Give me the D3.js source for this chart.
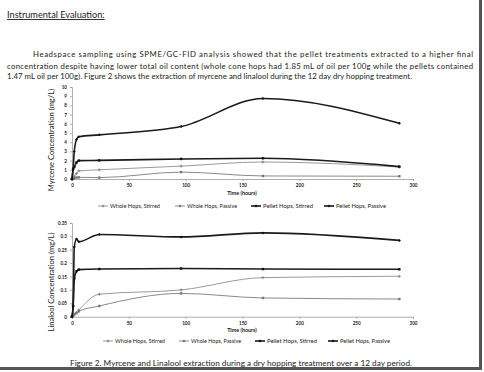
<!DOCTYPE html>
<meta charset="utf-8">
<html>
<head>
  <title>figure-2</title>
  <script src="https://d3js.org/d3.v7.min.js"></script>
  <style>
    body { margin:0; background:#fff; }
    text { font-family: Lato, "Open Sans", sans-serif; fill:#222; }
  </style>
</head>
<body>
<div id="page"></div>
<script type="text/javascript">
/* data */
var hours = [0, 1, 2, 4, 6, 24, 96, 168, 288];
var series_names = ["Whole Hops, Stirred", "Whole Hops, Passive", "Pellet Hops, Stirred", "Pellet Hops, Passive"];
var myrcene_whole_stirred  = [0, 0.1, 0.3, 0.6, 0.88, 1.0, 1.4, 1.85, 1.3];
var myrcene_whole_passive  = [0, 0.05, 0.1, 0.15, 0.18, 0.15, 0.75, 0.33, 0.3];
var myrcene_pellet_stirred = [0, 1.1, 1.3, 1.8, 2.0, 2.02, 2.18, 2.25, 1.35];
var myrcene_pellet_passive = [0, 1.1, 3.0, 4.3, 4.6, 4.8, 5.7, 8.75, 6.05];
var linalool_whole_stirred  = [0, 0.005, 0.01, 0.016, 0.025, 0.084, 0.1, 0.146, 0.151];
var linalool_whole_passive  = [0, 0.004, 0.008, 0.013, 0.02, 0.04, 0.087, 0.07, 0.066];
var linalool_pellet_stirred = [0, 0.04, 0.143, 0.17, 0.176, 0.178, 0.18, 0.178, 0.177];
var linalool_pellet_passive = [0, 0.04, 0.26, 0.29, 0.28, 0.307, 0.298, 0.313, 0.285];
var x_ticks = [0, 50, 100, 150, 200, 250, 300];
var myrcene_ticks = [0, 1, 2, 3, 4, 5, 6, 7, 8, 9, 10];
var linalool_ticks = [0, 0.05, 0.1, 0.15, 0.2, 0.25, 0.3, 0.35];

var styles = [
  {color:"#9a9a9a", width:1,   marker:"plus"},
  {color:"#8a8a8a", width:1,   marker:"square"},
  {color:"#1a1a1a", width:1.6, marker:"square"},
  {color:"#1a1a1a", width:1.6, marker:"diamond"}
];

var svg = d3.select("#page").append("svg")
    .attr("width", 484).attr("height", 372);

/* page shadow */
svg.append("rect").attr("x", 479).attr("y", 0).attr("width", 3).attr("height", 370).attr("fill", "#555");
svg.append("rect").attr("x", 0).attr("y", 367).attr("width", 482).attr("height", 3).attr("fill", "#555");

/* heading and paragraph */
svg.append("text").attr("x", 7).attr("y", 18).attr("font-size", "9.2px")
    .attr("text-decoration", "underline").text("Instrumental Evaluation:");

var para = [
  {x:33, y:57, len:440, t:"Headspace sampling using SPME/GC-FID analysis showed that the pellet treatments extracted to a higher final"},
  {x:7,  y:68.5, len:466, t:"concentration despite having lower total oil content (whole cone hops had 1.85 mL of oil per 100g while the pellets contained"},
  {x:7,  y:79, len:405, t:"1.47 mL oil per 100g). Figure 2 shows the extraction of myrcene and linalool during the 12 day dry hopping treatment."}
];
svg.selectAll(".para").data(para).enter().append("text")
    .attr("x", function(d){ return d.x; })
    .attr("y", function(d){ return d.y; })
    .attr("font-size", "7.8px")
    .attr("textLength", function(d){ return d.len; })
    .attr("lengthAdjust", "spacing")
    .text(function(d){ return d.t; });

/* caption */
svg.append("text").attr("x", 70).attr("y", 366).attr("font-size", "8.2px")
    .attr("textLength", 342).attr("lengthAdjust", "spacing")
    .text("Figure 2.  Myrcene and Linalool extraction during a dry hopping treatment over a 12 day period.");

function draw_marker(g, type, x, y, color, s){
  if (type == "plus"){
    g.append("path").attr("d", "M" + (x - s) + "," + y + "H" + (x + s) + "M" + x + "," + (y - s) + "V" + (y + s))
      .attr("stroke", color).attr("stroke-width", 0.8);
  } else if (type == "square"){
    g.append("rect").attr("x", x - s * 0.8).attr("y", y - s * 0.8).attr("width", s * 1.6).attr("height", s * 1.6)
      .attr("fill", color);
  } else {
    g.append("path").attr("d", "M" + x + "," + (y - s) + "L" + (x + s) + "," + y + "L" + x + "," + (y + s) + "L" + (x - s) + "," + y + "Z")
      .attr("fill", color);
  }
}

function draw_chart(cfg){
  var g = svg.append("g");
  var x = d3.scaleLinear().domain([0, 300]).range([72, 413]);
  var y = d3.scaleLinear().domain(cfg.domain).range(cfg.yrange);

  var xa = g.append("g").attr("transform", "translate(0," + cfg.yrange[0] + ")")
      .call(d3.axisBottom(x).tickValues(x_ticks).tickSize(2).tickPadding(3).tickFormat(d3.format("d")));
  var ya = g.append("g").attr("transform", "translate(72,0)")
      .call(d3.axisLeft(y).tickValues(cfg.ticks).tickSize(2).tickPadding(3).tickFormat(function(d){ return String(d); }));
  [xa, ya].forEach(function(a){
    a.selectAll("path, line").attr("stroke", "#999").attr("stroke-width", 0.8);
    a.selectAll("text").attr("font-size", "4.6px").attr("font-weight", "bold").attr("fill", "#333");
  });

  g.append("text").attr("x", 242).attr("y", cfg.yrange[0] + 15.5).attr("text-anchor", "middle")
      .attr("font-size", "5.4px").attr("font-weight", "bold").text("Time (hours)");
  g.append("text").attr("transform", "translate(" + cfg.title_x + "," + cfg.title_y + ") rotate(-90)")
      .attr("text-anchor", "middle").attr("font-size", "7.6px").text(cfg.title);

  var line = d3.line().x(function(d){ return x(d[0]); }).y(function(d){ return y(d[1]); })
      .curve(d3.curveMonotoneX);

  cfg.series.forEach(function(vals, i){
    var pts = hours.map(function(h, k){ return [h, vals[k]]; });
    var st = styles[i];
    g.append("path").datum(pts).attr("d", line)
      .attr("fill", "none").attr("stroke", st.color).attr("stroke-width", st.width);
    pts.forEach(function(p){
      draw_marker(g, st.marker, x(p[0]), y(p[1]), i < 2 ? "#777" : "#111", 1.5);
    });
  });

  /* legend */
  series_names.forEach(function(name, i){
    var lx = cfg.legend_x[i], ly = cfg.legend_y;
    var st = styles[i];
    g.append("line").attr("x1", lx - 6).attr("x2", lx + 4).attr("y1", ly).attr("y2", ly)
      .attr("stroke", st.color).attr("stroke-width", st.width);
    draw_marker(g, st.marker, lx - 1, ly, i < 2 ? "#777" : "#111", 1.4);
    g.append("text").attr("x", lx + 6).attr("y", ly + 2.2).attr("font-size", "6.2px")
      .attr("textLength", 50).attr("lengthAdjust", "spacingAndGlyphs").text(name);
  });
}

draw_chart({
  domain:[0, 10], yrange:[179, 87], ticks:myrcene_ticks,
  title:"Myrcene Concentration (mg/L)", title_x:54, title_y:140,
  series:[myrcene_whole_stirred, myrcene_whole_passive, myrcene_pellet_stirred, myrcene_pellet_passive],
  legend_x:[104, 181, 257, 330], legend_y:206
});

draw_chart({
  domain:[0, 0.35], yrange:[316.7, 223], ticks:linalool_ticks,
  title:"Linalool Concentration (mg/L)", title_x:54, title_y:282,
  series:[linalool_whole_stirred, linalool_whole_passive, linalool_pellet_stirred, linalool_pellet_passive],
  legend_x:[109, 185, 261, 334], legend_y:341
});
</script>
</body>
</html>
